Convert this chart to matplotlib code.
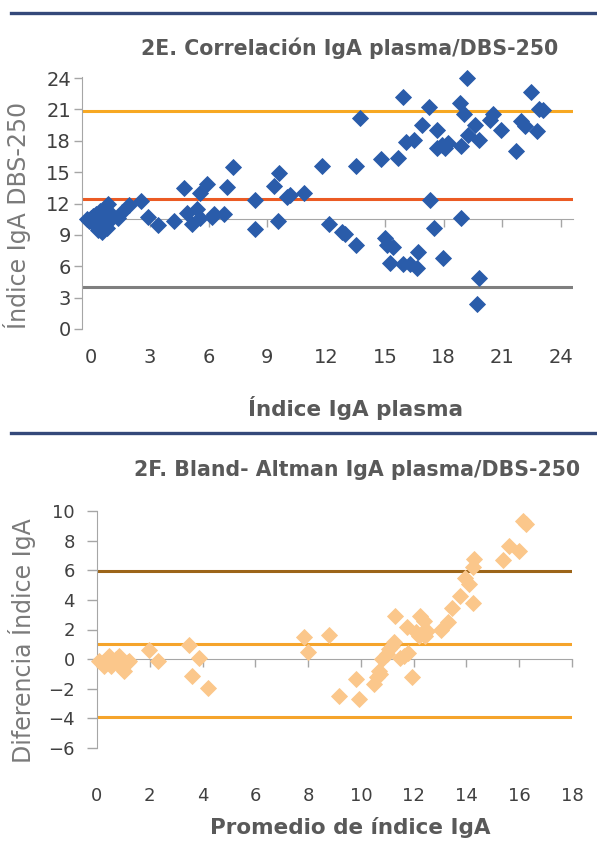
import matplotlib
matplotlib.use("Agg")
import matplotlib.pyplot as plt
from matplotlib.lines import Line2D

plt.rcParams["font.family"] = ["DejaVu Sans"]

# 2E: correlation plasma vs DBS-250
plasma_idx = [
    -0.2, -0.1, 0.0, 0.05, 0.1, 0.15, 0.2, 0.25, 0.3, 0.3, 0.35, 0.4, 0.45,
    0.5, 0.5, 0.55, 0.6, 0.65, 0.7, 0.75, 0.8, 0.9, 1.0,
    0.88, 1.4, 1.56, 1.95, 2.55, 2.93, 3.43, 4.23, 4.76, 4.88, 5.14, 5.4,
    5.56, 5.56, 5.9, 6.2, 6.28, 6.8, 6.92, 7.23, 8.37, 8.37, 9.35, 9.6,
    9.56, 9.98, 10.15, 10.87, 11.8, 12.16, 12.8, 12.95, 13.55, 13.52, 13.72,
    14.8, 15.0, 15.09, 15.4, 15.26, 15.65, 15.94, 15.94, 16.1, 16.28, 16.5,
    16.65, 16.7, 16.9, 17.26, 17.3, 17.5, 17.67, 17.64, 17.9, 18.06, 18.2,
    17.94, 18.83, 18.9, 18.9, 19.05, 19.17, 19.25, 19.6, 19.8, 19.8, 19.68,
    20.36, 20.5, 20.95, 21.7, 21.97, 22.14, 22.48, 22.77, 22.87, 23.08,
]
dbs_idx = [
    10.5, 10.3, 10.6, 10.2, 10.8, 10.0, 10.4, 11.0, 9.8, 10.6, 9.5, 10.2, 11.3,
    10.9, 9.9, 9.3, 10.4, 11.0, 10.1, 10.7, 9.7, 10.3, 11.0,
    11.95, 10.6, 11.2, 11.85, 12.2, 10.7, 9.9, 10.35, 13.5, 11.05, 10.05, 11.5,
    13.0, 10.6, 13.9, 10.75, 11.0, 11.0, 13.55, 15.5, 12.3, 9.6, 13.7, 14.9,
    10.3, 12.6, 12.8, 13.05, 15.6, 10.0, 9.3, 9.05, 8.0, 15.6, 20.2,
    16.3, 8.75, 8.0, 7.8, 6.35, 16.4, 22.15, 6.25, 17.9, 6.25, 18.1,
    5.8, 7.4, 19.5, 21.2, 12.3, 9.7, 19.0, 17.3, 17.6, 17.3, 17.75,
    6.75, 21.65, 17.5, 10.6, 20.6, 24.0, 18.55, 19.5, 18.1, 4.85, 2.35,
    20.0, 20.6, 19.0, 17.0, 19.9, 19.45, 22.7, 18.9, 21.0, 20.9,
]
ref_lines_e = [20.85, 12.45, 4.0]
ref_colors_e = ["#F7A823", "#EB5B24", "#7F7F7F"]

# 2F: Bland-Altman
mean_idx = [
    0.09, 0.28, 0.4, 0.53, 0.72, 0.84, 0.9, 1.03, 1.16, 1.22, 0.28, 0.47,
    1.98, 2.3, 3.49, 3.59, 3.87, 4.19, 7.84, 8.0, 8.79, 9.16, 9.8, 9.92,
    10.51, 10.62, 10.68, 10.74, 10.8, 10.99, 11.06, 11.18, 11.25, 11.31,
    11.5, 11.62, 11.77, 11.75, 11.94, 12.07, 12.19, 12.25, 12.38, 12.4,
    12.44, 12.5, 13.04, 13.32, 13.45, 13.77, 13.96, 14.08, 14.25, 14.25,
    14.3, 15.4, 15.6, 16.0, 16.16, 16.25,
]
diff_idx = [
    -0.1, -0.2, 0.05, -0.45, 0.0, 0.2, -0.56, -0.79, -0.2, -0.15, -0.45, 0.2,
    0.63, -0.16, 0.97, -1.13, 0.07, -1.98, 1.46, 0.5, 1.62, -2.48, -1.35, -2.7,
    -1.69, -1.24, -0.79, -1.01, 0.0, 0.34, 0.68, 0.9, 1.17, 2.88,
    0.05, 0.23, 0.41, 2.14, -1.24, 1.8, 1.57, 2.88, 2.59, 1.91,
    1.57, 1.91, 1.98, 2.48, 3.45, 4.28, 5.45, 5.07, 3.78, 6.2,
    6.76, 6.71, 7.66, 7.28, 9.35, 9.1,
]
ref_lines_f = [5.95, 1.0, -3.9]
ref_colors_f = ["#9C6519", "#F5A42B", "#F5A42B"]

W, H = 597, 849
fig = plt.figure(figsize=(W / 100, H / 100), dpi=100)

def fx(px):
    return px / W

def fy(py):
    return 1 - py / H

title_c = "#595959"
tick_c = "#404040"
axis_c = "#A6A6A6"
ylab_c = "#7A7A7A"

# separator rules
for py in (13, 433):
    fig.add_artist(Line2D([fx(11), fx(597)], [fy(py), fy(py)], color="#34497A", lw=2.4))

# ---- 2E ----
ax1 = fig.add_axes([fx(82), fy(329), fx(573 - 82), (329 - 77) / H])
ax1.plot(plasma_idx, dbs_idx, ls="none", marker="D", ms=8, color="#2A5CAA",
         mec="#2A5CAA", mew=0.6, zorder=3, clip_on=False)
for val, col in zip(ref_lines_e, ref_colors_e):
    ax1.axhline(val, color=col, lw=2.2, zorder=2)
ax1.set_xlim(-0.46, 24.6)
ax1.set_ylim(0, 24.1)
ax1.set_yticks(range(0, 25, 3))
ax1.set_xticks(range(0, 25, 3))
ax1.spines[["top", "right"]].set_visible(False)
ax1.spines["left"].set_color(axis_c)
ax1.spines["bottom"].set_color(axis_c)
ax1.spines["bottom"].set_position(("data", 10.48))
ax1.tick_params(axis="y", direction="out", length=6, width=1, color=axis_c,
                labelsize=14, labelcolor=tick_c, pad=2)
ax1.tick_params(axis="x", direction="out", length=6, width=1, color=axis_c,
                labelbottom=False)
ax1.set_facecolor("none")
sec1 = ax1.secondary_xaxis(0)
sec1.set_xticks(range(0, 25, 3))
sec1.spines["bottom"].set_visible(False)
sec1.tick_params(length=0, pad=14, labelsize=14, labelcolor=tick_c)

fig.text(fx(350), fy(48), "2E. Correlación IgA plasma/DBS-250", ha="center",
         va="center", fontsize=14.8, fontweight="bold", color=title_c)
fig.text(fx(356), fy(408), "Índice IgA plasma", ha="center", va="center",
         fontsize=15.5, fontweight="bold", color=title_c)
fig.text(fx(17), fy(215), "Índice IgA DBS-250", ha="center", va="center",
         rotation=90, fontsize=17, color=ylab_c)

# ---- 2F ----
ax2 = fig.add_axes([fx(97), fy(748), fx(572 - 97), (748 - 511) / H])
ax2.plot(mean_idx, diff_idx, ls="none", marker="D", ms=8, color="#FBC78B",
         mec="#FBC78B", mew=0.6, zorder=3, clip_on=False)
for val, col in zip(ref_lines_f, ref_colors_f):
    ax2.axhline(val, color=col, lw=2.2, zorder=2)
ax2.set_xlim(0.04, 18.0)
ax2.set_ylim(-6, 10)
ax2.set_yticks(range(-6, 11, 2))
ax2.set_xticks(range(0, 19, 2))
ax2.spines[["top", "right"]].set_visible(False)
ax2.spines["left"].set_color(axis_c)
ax2.spines["bottom"].set_color(axis_c)
ax2.spines["bottom"].set_position(("data", 0))
ax2.tick_params(axis="y", direction="out", length=7, width=1, color=axis_c,
                labelsize=13, labelcolor=tick_c, pad=9)
ax2.tick_params(axis="x", direction="out", length=6, width=1, color=axis_c,
                labelbottom=False)
ax2.set_facecolor("none")
sec2 = ax2.secondary_xaxis(0)
sec2.set_xticks(range(0, 19, 2))
sec2.spines["bottom"].set_visible(False)
sec2.tick_params(length=0, pad=28, labelsize=13, labelcolor=tick_c)

fig.text(fx(357), fy(470), "2F. Bland- Altman IgA plasma/DBS-250", ha="center",
         va="center", fontsize=14.8, fontweight="bold", color=title_c)
fig.text(fx(350), fy(827), "Promedio de índice IgA", ha="center", va="center",
         fontsize=15.5, fontweight="bold", color=title_c)
fig.text(fx(22), fy(641), "Diferencia Índice IgA", ha="center", va="center",
         rotation=90, fontsize=17, color=ylab_c)

fig.savefig("out.png", dpi=100)
